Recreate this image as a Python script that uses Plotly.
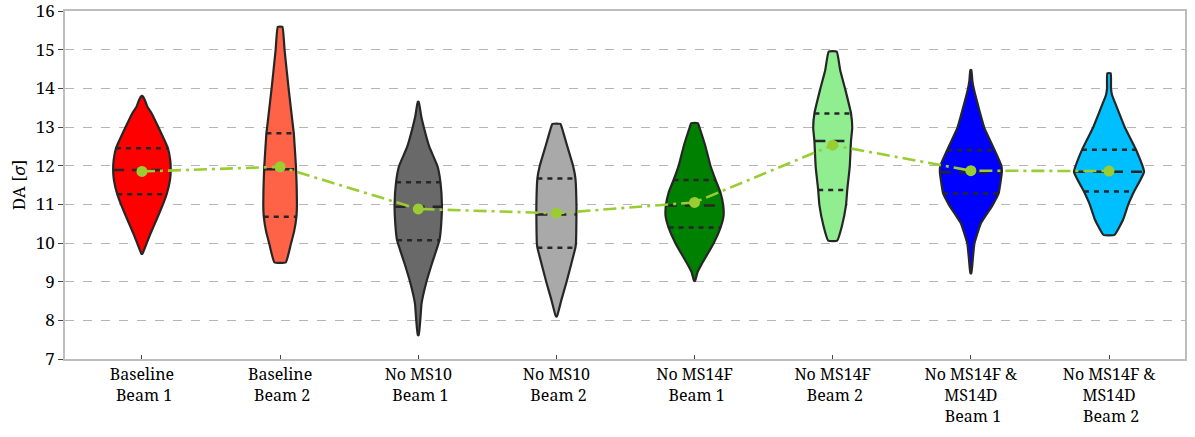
import numpy as np
import plotly.graph_objects as go

categories = [
    "Baseline<br>\u00a0Beam 1",
    "Baseline<br>\u00a0Beam 2",
    "No MS10<br>\u00a0Beam 1",
    "No MS10<br>\u00a0Beam 2",
    "No MS14F<br>\u00a0Beam 1",
    "No MS14F<br>\u00a0Beam 2",
    "No MS14F &amp;<br>MS14D<br>\u00a0Beam 1",
    "No MS14F &amp;<br>MS14D<br>\u00a0Beam 2",
]
colors = ["#ff0000", "#ff6347", "#696969", "#a9a9a9",
          "#008000", "#90ee90", "#0000ff", "#00bfff"]

# density profiles (DA level [sigma] -> estimated density)
da_base_b1 = [13.80, 13.70, 13.53, 13.35, 12.98, 12.45, 12.14, 11.89, 11.63, 11.26, 10.98, 10.60, 10.26, 9.99, 9.72]
dens_base_b1 = [0.008, 0.045, 0.083, 0.152, 0.261, 0.406, 0.442, 0.450, 0.438, 0.386, 0.323, 0.227, 0.138, 0.073, 0.008]

da_base_b2 = [15.59, 14.99, 13.99, 12.99, 12.84, 11.99, 11.50, 10.98, 10.68, 10.30, 9.98, 9.50]
dens_base_b2 = [0.036, 0.070, 0.133, 0.203, 0.214, 0.247, 0.258, 0.263, 0.255, 0.219, 0.169, 0.089]

da_ms10_b1 = [13.65, 13.27, 12.98, 12.49, 11.98, 11.57, 10.98, 10.50, 10.07, 9.47, 8.98, 8.44, 7.99, 7.62]
dens_ms10_b1 = [0.008, 0.047, 0.089, 0.172, 0.302, 0.347, 0.370, 0.359, 0.331, 0.214, 0.125, 0.052, 0.031, 0.008]

da_ms10_b2 = [13.08, 12.98, 12.49, 11.99, 11.67, 10.98, 10.74, 9.99, 9.88, 9.47, 8.98, 8.53, 8.10]
dens_ms10_b2 = [0.063, 0.086, 0.172, 0.261, 0.297, 0.313, 0.313, 0.305, 0.297, 0.234, 0.156, 0.078, 0.008]

da_ms14f_b1 = [13.10, 12.98, 12.49, 11.99, 11.63, 11.30, 10.97, 10.70, 10.40, 9.99, 9.47, 9.25, 9.02]
dens_ms14f_b1 = [0.052, 0.078, 0.172, 0.250, 0.328, 0.406, 0.448, 0.453, 0.406, 0.297, 0.117, 0.047, 0.008]

da_ms14f_b2 = [14.95, 14.47, 13.98, 13.35, 12.98, 12.64, 11.97, 11.37, 10.98, 10.42, 10.06]
dens_ms14f_b2 = [0.063, 0.117, 0.195, 0.286, 0.305, 0.286, 0.266, 0.227, 0.208, 0.141, 0.070]

da_ms14fd_b1 = [14.47, 14.20, 13.98, 13.50, 12.98, 12.40, 12.00, 11.83, 11.28, 10.98, 10.51, 9.98, 9.60, 9.22]
dens_ms14fd_b1 = [0.008, 0.023, 0.047, 0.122, 0.211, 0.372, 0.477, 0.484, 0.433, 0.339, 0.156, 0.055, 0.031, 0.008]

da_ms14fd_b2 = [14.39, 14.00, 13.83, 13.61, 12.98, 12.41, 11.84, 11.33, 10.98, 10.60, 10.21]
dens_ms14fd_b2 = [0.027, 0.031, 0.047, 0.098, 0.250, 0.422, 0.547, 0.391, 0.297, 0.219, 0.086]

q1_values = [11.26, 10.68, 10.07, 9.88, 10.40, 11.37, 11.28, 11.33]
median_values = [11.89, 11.91, 10.94, 10.74, 10.97, 12.64, 11.83, 11.84]
q3_values = [12.45, 12.84, 11.57, 11.67, 11.63, 13.35, 12.40, 12.41]
mean_values = [11.85, 11.97, 10.88, 10.77, 11.05, 12.53, 11.87, 11.86]

da_profiles = [da_base_b1, da_base_b2, da_ms10_b1, da_ms10_b2,
               da_ms14f_b1, da_ms14f_b2, da_ms14fd_b1, da_ms14fd_b2]
dens_profiles = [dens_base_b1, dens_base_b2, dens_ms10_b1, dens_ms10_b2,
                 dens_ms14f_b1, dens_ms14f_b2, dens_ms14fd_b1, dens_ms14fd_b2]

WIDTH_SCALE = 0.4634
FONT = "Noto Serif"
EDGE = "#262626"

fig = go.Figure()
positions = list(range(len(categories)))

for i, (da, dens) in enumerate(zip(da_profiles, dens_profiles)):
    da = np.array(da)
    dens = np.array(dens) * WIDTH_SCALE
    xs = np.concatenate([i + dens, (i - dens)[::-1], [i + dens[0]]])
    ys = np.concatenate([da, da[::-1], [da[0]]])
    fig.add_trace(go.Scatter(
        x=xs, y=ys, mode="lines", fill="toself", fillcolor=colors[i],
        line=dict(color=EDGE, width=2.2, shape="spline", smoothing=0.35),
        hoverinfo="skip", showlegend=False))
    for q, dash in ((q1_values[i], "5px,5px"), (median_values[i], "11px,8px"),
                    (q3_values[i], "5px,5px")):
        hw = np.interp(q, da[::-1], dens[::-1])
        fig.add_trace(go.Scatter(
            x=[i - hw, i + hw], y=[q, q], mode="lines",
            line=dict(color=EDGE, width=2.5, dash=dash),
            hoverinfo="skip", showlegend=False))

fig.add_trace(go.Scatter(
    x=positions, y=mean_values, mode="lines+markers",
    line=dict(color="#9acd32", width=2.6, dash="13px,5px,3px,5px"),
    marker=dict(color="#9acd32", size=11),
    showlegend=False))

fig.update_layout(
    width=1195, height=437,
    margin=dict(l=65, r=10, t=11, b=78),
    plot_bgcolor="white", paper_bgcolor="white",
    font=dict(family=FONT, size=17, color="black"),
    xaxis=dict(
        range=[-0.557, 7.55], tickmode="array", tickvals=positions,
        ticktext=categories, showgrid=False, zeroline=False, automargin=False,
        showline=True, linecolor="#bdbdbd", linewidth=1.5, mirror=True,
        ticks="inside", ticklen=4, tickcolor="#444", tickwidth=1.2,
        tickfont=dict(family=FONT, size=16, color="black")),
    yaxis=dict(
        range=[7, 16], dtick=1, showgrid=True, gridcolor="#b5b5b5",
        gridwidth=0.8, griddash="dash", zeroline=False, automargin=False,
        showline=True, linecolor="#bdbdbd", linewidth=1.5, mirror=True,
        ticks="outside", ticklen=5, tickcolor="#444", tickwidth=1.2,
        ticklabeloverflow="allow",
        tickfont=dict(family=FONT, size=17, color="black"),
        title=dict(text="DA [<i>σ</i>]", font=dict(family=FONT, size=17),
                   standoff=6)),
)

fig.write_html(
    "out.html",
    config={"displayModeBar": False},
    post_script="document.body.style.margin='0';document.body.style.overflow='hidden';",
)
